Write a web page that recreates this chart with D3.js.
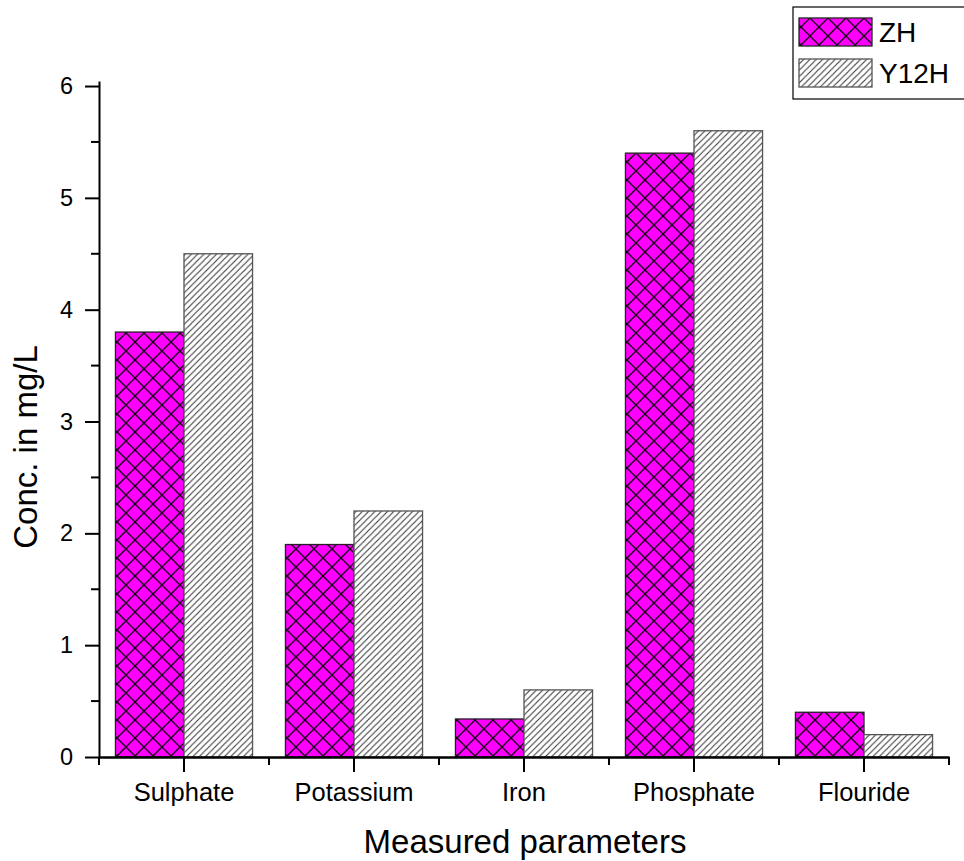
<!DOCTYPE html>
<html>
<head>
<meta charset="utf-8">
<script src="https://cdn.jsdelivr.net/npm/d3@7"></script>
<style>
  html, body { margin: 0; padding: 0; background: #fff; }
  svg { display: block; }
  text { font-family: "Liberation Sans", Arial, sans-serif; }
</style>
</head>
<body>
<svg id="chart" width="964" height="861"></svg>
<script>
// Measured concentrations (mg/L) for the two samples
const categories = ["Sulphate", "Potassium", "Iron", "Phosphate", "Flouride"];
const seriesNames = ["ZH", "Y12H"];
const zhValues = [3.8, 1.9, 0.34, 5.4, 0.4];
const y12hValues = [4.5, 2.2, 0.6, 5.6, 0.2];
const yTicks = [0, 1, 2, 3, 4, 5, 6];
const yMinorTicks = [0.5, 1.5, 2.5, 3.5, 4.5, 5.5];

const FONT = "Liberation Sans, Arial, sans-serif";
const svg = d3.select("#chart");
const margin = { left: 99, right: 15, top: 81, bottom: 104 };
const W = 964, H = 861;

const x = d3.scaleBand().domain(categories).range([margin.left, W - margin.right]).paddingInner(0).paddingOuter(0);
const xSub = d3.scaleBand().domain(seriesNames).range([0, x.bandwidth()]).paddingInner(0).paddingOuter(0.24);
const y = d3.scaleLinear().domain([0, 6.045]).range([H - margin.bottom, margin.top]);

// Fill patterns
const defs = svg.append("defs");
const cross = defs.append("pattern")
  .attr("id", "crossHatch").attr("patternUnits", "userSpaceOnUse")
  .attr("width", 18).attr("height", 18);
cross.append("rect").attr("width", 18).attr("height", 18).attr("fill", "#ff00ff");
cross.append("path").attr("d", "M0,0 L18,18 M-1,17 L1,19 M17,-1 L19,1 M18,0 L0,18 M-1,1 L1,-1 M17,19 L19,17")
  .attr("stroke", "#1a001a").attr("stroke-width", 1.4);

const diag = defs.append("pattern")
  .attr("id", "diagHatch").attr("patternUnits", "userSpaceOnUse")
  .attr("width", 6.3).attr("height", 6.3);
diag.append("rect").attr("width", 6.3).attr("height", 6.3).attr("fill", "#fff");
diag.append("path").attr("d", "M0,6.3 L6.3,0 M-1,1 L1,-1 M5.3,7.3 L7.3,5.3")
  .attr("stroke", "#3a3a3a").attr("stroke-width", 1.1);

const fills = { ZH: "url(#crossHatch)", Y12H: "url(#diagHatch)" };
const strokes = { ZH: "#222", Y12H: "#555" };

const rows = categories.map((c, i) => ({ cat: c, vals: [
  { s: "ZH", v: zhValues[i] }, { s: "Y12H", v: y12hValues[i] }
] }));

const groups = svg.append("g").selectAll("g").data(rows).join("g")
  .attr("transform", d => `translate(${x(d.cat)},0)`);
groups.selectAll("rect").data(d => d.vals).join("rect")
  .attr("x", d => xSub(d.s))
  .attr("width", xSub.bandwidth())
  .attr("y", d => y(d.v))
  .attr("height", d => y(0) - y(d.v))
  .attr("fill", d => fills[d.s])
  .attr("stroke", d => strokes[d.s])
  .attr("stroke-width", 1.3);

// Y axis
const yAxis = svg.append("g").attr("transform", `translate(${margin.left},0)`)
  .call(d3.axisLeft(y).tickValues(yTicks).tickFormat(d3.format("d")).tickSize(14).tickSizeOuter(0))
  .attr("font-family", FONT);
yAxis.select(".domain").attr("stroke-width", 2);
yAxis.selectAll(".tick line").attr("stroke-width", 2);
yAxis.selectAll(".tick text").attr("font-size", 23.5).attr("fill", "#000").attr("x", -26);
svg.append("g").attr("transform", `translate(${margin.left},0)`)
  .selectAll("line").data(yMinorTicks).join("line")
  .attr("x1", 0).attr("x2", -8).attr("y1", d => y(d)).attr("y2", d => y(d))
  .attr("stroke", "#000").attr("stroke-width", 2);

// X axis
const xAxis = svg.append("g").attr("transform", `translate(0,${y(0)})`)
  .call(d3.axisBottom(x).tickSize(15).tickSizeOuter(0))
  .attr("font-family", FONT);
xAxis.select(".domain").attr("stroke-width", 2.5);
xAxis.selectAll(".tick line").attr("stroke-width", 2);
xAxis.selectAll(".tick text").attr("font-size", 25.5).attr("fill", "#000").attr("y", 26);
const bounds = categories.map(c => x(c)).concat([x(categories[categories.length - 1]) + x.bandwidth()]);
svg.append("g").attr("transform", `translate(0,${y(0)})`)
  .selectAll("line").data(bounds).join("line")
  .attr("x1", d => d).attr("x2", d => d).attr("y1", 0).attr("y2", 8)
  .attr("stroke", "#000").attr("stroke-width", 2);

// Axis titles
svg.append("text").attr("x", 525).attr("y", 853).attr("text-anchor", "middle")
  .attr("font-size", 33).text("Measured parameters");
svg.append("text").attr("transform", "translate(37,447) rotate(-90)").attr("text-anchor", "middle")
  .attr("font-size", 33).text("Conc. in mg/L");

// Legend
const legend = svg.append("g");
legend.append("rect").attr("x", 793).attr("y", 7).attr("width", 180).attr("height", 92)
  .attr("fill", "#fff").attr("stroke", "#000").attr("stroke-width", 1.2);
seriesNames.forEach((s, i) => {
  const yy = 18 + i * 41;
  legend.append("rect").attr("x", 799).attr("y", yy).attr("width", 73).attr("height", 28)
    .attr("fill", fills[s]).attr("stroke", strokes[s]).attr("stroke-width", 1.3);
  legend.append("text").attr("x", 879).attr("y", yy + 24).attr("font-size", 28).text(s);
});
</script>
</body>
</html>
